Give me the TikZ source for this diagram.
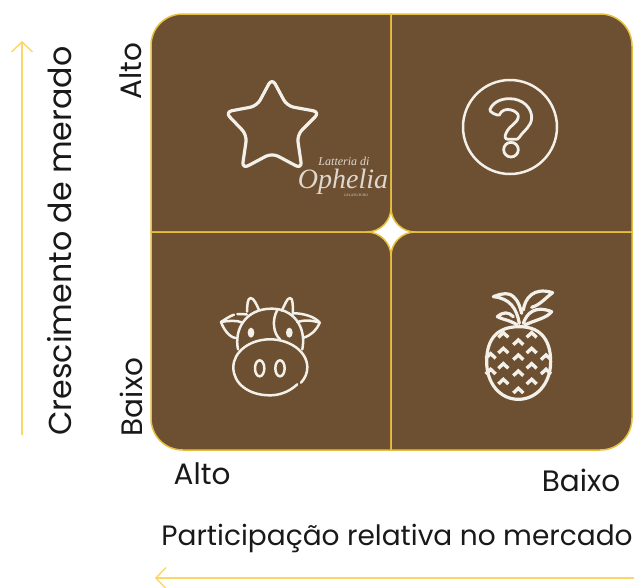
\documentclass[tikz,border=0pt]{standalone}
\usepackage{fontspec}
\setmainfont{Poppins}
\newfontfamily\logofont{Liberation Serif}
\usetikzlibrary{arrows.meta}
\definecolor{brownq}{HTML}{6D5031}
\definecolor{goldq}{HTML}{E6BF3C}
\definecolor{arrowq}{HTML}{FBD768}
\definecolor{iconq}{HTML}{F3F0EA}
\tikzset{
  quad/.style={fill=brownq,draw=goldq,line width=1.5pt},
  icon/.style={draw=iconq,line width=3.2pt,line cap=round,line join=round},
  thinicon/.style={draw=iconq,line width=2.5pt,line cap=round,line join=round},
  axisarrow/.style={draw=arrowq,line width=1.4pt,-{Straight Barb[length=10pt,width=21pt,line width=1.4pt]}},
  lab/.style={inner sep=0pt,text=black!90,font=\fontsize{29.5}{34}\selectfont},
  ylabel/.style={inner sep=0pt,text=black!90,font=\fontsize{31.7}{36}\selectfont},
  xlabel/.style={inner sep=0pt,text=black!90,font=\fontsize{28}{32}\selectfont},
  logo/.style={inner sep=0pt,text=iconq!85!brownq}
}
\begin{document}
\begin{tikzpicture}[x=1pt,y=-1pt]
\useasboundingbox (0,0) rectangle (635,587);
% quadrants
\path[quad] (183,14) -- (391,14) -- (391,208) .. controls (391,221) and (380,232) .. (367,232) -- (151,232) -- (151,46) .. controls (151,28) and (165,14) .. (183,14) -- cycle;
\path[quad] (391,14) -- (600,14) .. controls (618,14) and (632,28) .. (632,46) -- (632,232) -- (415,232) .. controls (402,232) and (391,221) .. (391,208) -- cycle;
\path[quad] (151,232) -- (367,232) .. controls (380,232) and (391,243) .. (391,256) -- (391,450) -- (183,450) .. controls (165,450) and (151,436) .. (151,418) -- cycle;
\path[quad] (415,232) -- (632,232) -- (632,418) .. controls (632,436) and (618,450) .. (600,450) -- (391,450) -- (391,256) .. controls (391,243) and (402,232) .. (415,232) -- cycle;
% star
\draw[icon,rounded corners=7pt] (272,78) -- (287,106) -- (320,112) -- (297,135) -- (302,169) -- (272,153) -- (242,169) -- (247,135) -- (225,112) -- (257,106) -- cycle;
% question
\draw[thinicon] (510,127) circle (47);
\begin{scope}[shift={(440,80)},x=0.3333pt,y=-0.3333pt]
\draw[icon,line width=2.8pt] (150,88) .. controls (160,65) and (185,56) .. (208,56)
  .. controls (250,56) and (275,85) .. (275,112) .. controls (275,140) and (252,150) .. (238,172)
  .. controls (235,178) and (230,178) .. (225,178) -- (205,178) .. controls (195,178) and (193,170) .. (198,160)
  .. controls (208,135) and (235,130) .. (235,108) .. controls (235,92) and (190,75) .. (178,105)
  .. controls (172,108) and (145,95) .. (150,88) -- cycle;
\draw[icon,line width=2.8pt] (213,209) circle (22);
\end{scope}
% cow
\begin{scope}[shift={(200,270)},x=0.3333pt,y=-0.3333pt]
\draw[thinicon] (292,343) .. controls (265,368) and (235,376) .. (210,376) .. controls (145,376) and (100,340) .. (100,292) .. controls (100,245) and (150,208) .. (210,208) .. controls (270,208) and (322,245) .. (322,292) .. controls (322,310) and (315,325) .. (303,338);
\draw[thinicon] (114,238) .. controls (102,180) and (135,116) .. (215,116) .. controls (280,116) and (320,170) .. (307,238);
\draw[thinicon] (232,120) .. controls (215,150) and (220,190) .. (240,208);
\draw[thinicon] (141,125) .. controls (142,105) and (142,85) .. (152,84) .. controls (162,84) and (170,105) .. (177,120);
\draw[thinicon] (245,122) .. controls (255,105) and (260,85) .. (270,84) .. controls (280,84) and (278,110) .. (279,132);
\draw[thinicon] (112,132) -- (140,133);
\draw[thinicon] (102,134) .. controls (90,138) and (75,148) .. (63,156) .. controls (70,175) and (85,200) .. (106,204);
\draw[thinicon] (63,156) .. controls (85,152) and (110,150) .. (128,158);
\draw[thinicon] (283,130) .. controls (310,130) and (345,140) .. (359,158) .. controls (350,180) and (335,195) .. (311,203);
\draw[thinicon] (359,158) .. controls (335,150) and (310,150) .. (292,156);
\draw[thinicon] (179,295) ellipse (14 and 24);
\draw[thinicon] (240,295) ellipse (14 and 24);
\fill[iconq] (153,188) ellipse (10 and 15);
\fill[iconq] (268,188) ellipse (10 and 15);
\end{scope}
% pineapple
\begin{scope}[shift={(460,270)},x=0.3333pt,y=-0.3333pt]
\draw[icon] (178,170) .. controls (100,170) and (80,220) .. (80,275) .. controls (80,340) and (120,388) .. (175,388) .. controls (230,388) and (272,340) .. (272,275) .. controls (272,220) and (250,170) .. (178,170) -- cycle;
\draw[icon] (178,160) .. controls (170,115) and (150,85) .. (100,80) .. controls (125,70) and (150,65) .. (165,85) .. controls (175,95) and (180,110) .. (185,130);
\draw[icon] (160,140) .. controls (145,125) and (130,125) .. (112,140) .. controls (125,148) and (150,150) .. (172,165);
\draw[icon] (190,120) .. controls (195,85) and (220,50) .. (278,68) .. controls (255,85) and (240,105) .. (215,112);
\draw[icon] (190,160) .. controls (200,130) and (225,105) .. (275,125) .. controls (260,145) and (225,150) .. (195,165);
\foreach \cx/\cy in {130/195, 215/195, 175/217, 130/242, 215/242, 258/262, 92/258, 175/262, 130/288, 215/288, 258/305, 92/305, 175/310, 130/335, 215/335, 175/362}
  \draw[line width=3.4pt,draw=iconq,line join=miter] (\cx-15,\cy+7) -- (\cx,\cy-7) -- (\cx+15,\cy+7);
\end{scope}
% logo
\node[logo,font=\logofont\itshape\fontsize{12}{12}\selectfont] (logoa) at (344,161) {Latteria di};
\node[logo,font=\logofont\itshape\fontsize{28}{28}\selectfont] (logob) at (343,182) {Ophelia};
\node[logo,font=\logofont\fontsize{3.5}{4}\selectfont] (logoc) at (356,195.5) {GELATO PURO};
% labels
\node[lab,rotate=90] (lalto) at (131,71) {Alto};
\node[lab,rotate=90] (lbaixo) at (131,397) {Baixo};
\node[lab] (balto) at (202,474) {Alto};
\node[lab] (bbaixo) at (581,480) {Baixo};
\node[ylabel,rotate=90] (ylab) at (60,241) {Crescimento de merado};
\node[xlabel] (xlab) at (397,538) {Participação relativa no mercado};
% axes
\coordinate (ya) at (22,435);
\coordinate (yb) at (22,41);
\coordinate (xa) at (634,578);
\coordinate (xb) at (155,578);
\draw[axisarrow] (ya) -- (yb);
\draw[axisarrow] (xa) -- (xb);
\end{tikzpicture}
\end{document}
